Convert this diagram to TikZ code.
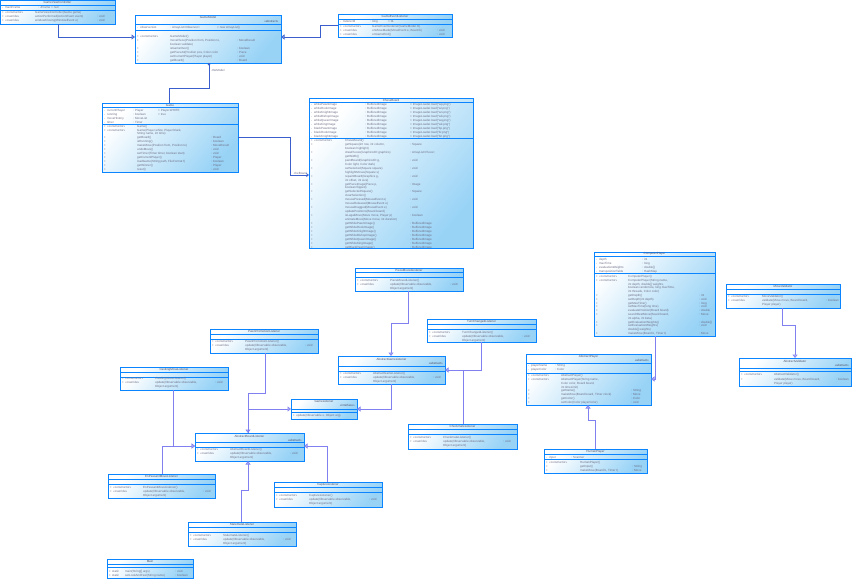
\documentclass[tikz,border=0pt]{standalone}
\usepackage{fontspec}
\newfontfamily\uf{Liberation Sans}
\usetikzlibrary{arrows.meta}
\definecolor{clsb}{HTML}{0A84FF}
\definecolor{clsfill}{HTML}{98D3F6}
\definecolor{clsmid}{HTML}{D0EDFC}
\definecolor{txtc}{HTML}{6E6E86}
\definecolor{ttlc}{HTML}{50506A}
\definecolor{inhc}{HTML}{8080F0}
\definecolor{ascc}{HTML}{3A5FCD}
\newlength\cA \newlength\cB \newlength\cC
\setlength\cA{3.2pt}
\newcommand\setcols[2]{\setlength\cB{#1pt}\setlength\cC{#2pt}}
\newcommand\rw[4]{\makebox[\cA][l]{#1}\makebox[\cB][l]{#2}\makebox[\cC][l]{#3}#4\strut}
\newcommand\umlcls[7]{\node[clsbox, minimum width={#4pt-#2pt}, minimum height={#5pt-#3pt}] (#1) at (#2,#3) {};
 \draw[divline] (#2,#6) -- (#4,#6); \draw[divline] (#2,#7) -- (#4,#7);}
\newcommand\rowsnode[5]{\node[rowtxt=#4] (#1) at (#2,#3-1.7) {#5};}
\newcommand\lst[1]{\rw{+}{«constructor»}{#1()}{}\\\rw{+}{«override»}{update(Observable observable,}{: void}\\\rw{}{}{Object argument)}{}}
\tikzset{
 clsbox/.style={draw=clsb, line width=0.9pt, top color=white, middle color=clsmid, bottom color=clsfill, shading angle=50, inner sep=0pt, outer sep=0pt, anchor=north west},
 divline/.style={draw=clsb, line width=0.9pt},
 rowtxt/.style={anchor=north west, inner sep=0pt, outer sep=0pt, align=left, text=txtc, font=\uf\fontsize{3}{#1}\selectfont},
 ttl/.style={inner sep=0pt, text=ttlc, font=\uf\fontsize{3}{3.6}\selectfont},
 sty/.style={ttl, anchor=east},
 lbl/.style={inner sep=0pt, text=txtc, font=\uf\fontsize{3}{3.6}\selectfont},
 conn/.style={draw=inhc, line width=0.8pt},
 inh/.style={conn, -{Triangle[open, fill=white, length=3.5pt, width=5pt]}},
 aline/.style={draw=ascc, line width=0.8pt},
 ainh/.style={aline, -{Triangle[open, fill=white, length=3.5pt, width=5pt]}},
}
\begin{document}
\begin{tikzpicture}[x=1pt,y=-1pt]
\useasboundingbox (0,0) rectangle (853,579);
\fill[white] (0,0) rectangle (853,579);

% A
\umlcls{A}{0.5}{0.5}{115}{24}{5}{10}
\node[ttl] (A-t) at (57.5,2.8) {GameViewController};
\setcols{33}{13}
\rowsnode{A-a}{2}{7.5}{4}{\rw{-}{mainFrame}{: JFrame}{= null}}
\setcols{30}{62}
\rowsnode{A-m}{2}{12.5}{3.8}{\rw{+}{«constructor»}{GameViewController(Game game)}{}\\\rw{+}{«override»}{actionPerformed(ActionEvent event)}{: void}\\\rw{+}{«override»}{windowClosing(WindowEvent e)}{: void}}

% B
\umlcls{B}{135}{15}{281}{63}{24}{30}
\node[ttl] (B-t) at (208,17.5) {GameModel};
\node[sty] (B-s) at (278.5,21.2) {«abstract»};
\setcols{30}{47}
\rowsnode{B-a}{137}{27}{4}{\rw{-}{observerList}{: ArrayList<Observer>}{= new ArrayList()}}
\setcols{30}{67}
\rowsnode{B-m}{137}{36}{4}{\rw{+}{«constructor»}{GameModel()}{}\\
\rw{+}{}{movePiece(Position from, Position to,}{: MoveResult}\\
\rw{}{}{boolean validate)}{}\\
\rw{+}{}{isGameOver()}{: boolean}\\
\rw{+}{}{getPieceAt(Position pos, Color color}{: Piece}\\
\rw{+}{}{setCurrentPlayer(Player player)}{: void}\\
\rw{+}{}{getBoard()}{: Board}}

% C
\umlcls{C}{338}{14}{452}{37}{19}{24}
\node[ttl] (C-t) at (395,16.5) {GameEventListener};
\setcols{27}{18}
\rowsnode{C-a}{340}{21.5}{4}{\rw{-}{listenerId}{: long}{= 0L}}
\setcols{29}{65}
\rowsnode{C-m}{340}{27}{3.8}{\rw{+}{«constructor»}{GameEventListener(GameModel m)}{}\\
\rw{+}{«override»}{onMoveMade(MoveEvent e, Board b)}{: void}\\
\rw{+}{«override»}{onGameEnd()}{: void}}

% D
\umlcls{D}{102}{103}{238}{172}{107}{124}
\node[ttl] (D-t) at (170,105.2) {Game};
\setcols{26}{25}
\rowsnode{D-a}{104}{110}{4}{\rw{-}{currentPlayer}{: Player}{= Player.WHITE}\\
\rw{-}{running}{: boolean}{= true}\\
\rw{-}{moveHistory}{: MoveList}{}\\
\rw{-}{timer}{: Timer}{}}
\setcols{30}{74}
\rowsnode{D-m}{104}{126}{3.95}{\rw{+}{«constructor»}{Game()}{}\\
\rw{+}{«constructor»}{Game(Player white, Player black,}{}\\
\rw{}{}{String name, int time)}{}\\
\rw{+}{}{getBoard()}{: Board}\\
\rw{+}{}{isRunning()}{: boolean}\\
\rw{+}{}{makeMove(Position from, Position to)}{: MoveResult}\\
\rw{+}{}{undoMove()}{: void}\\
\rw{+}{}{setTimer(Timer timer, boolean start)}{: void}\\
\rw{+}{}{getCurrentPlayer()}{: Player}\\
\rw{+}{}{loadGame(String path, FileFormat f)}{: boolean}\\
\rw{+}{}{getWinner()}{: Player}\\
\rw{+}{}{reset()}{: void}}

% E
\umlcls{E}{309}{98}{473}{248}{102}{138}
\node[ttl] (E-t) at (391,100.2) {ChessBoard};
\setcols{51}{45}
\rowsnode{E-a}{311}{104.5}{4}{\rw{-}{whitePawnImage}{: BufferedImage}{= ImageLoader.load("wp.png")}\\
\rw{-}{whiteRookImage}{: BufferedImage}{= ImageLoader.load("wr.png")}\\
\rw{-}{whiteKnightImage}{: BufferedImage}{= ImageLoader.load("wn.png")}\\
\rw{-}{whiteBishopImage}{: BufferedImage}{= ImageLoader.load("wb.png")}\\
\rw{-}{whiteQueenImage}{: BufferedImage}{= ImageLoader.load("wq.png")}\\
\rw{-}{whiteKingImage}{: BufferedImage}{= ImageLoader.load("wk.png")}\\
\rw{-}{blackPawnImage}{: BufferedImage}{= ImageLoader.load("bp.png")}\\
\rw{-}{blackRookImage}{: BufferedImage}{= ImageLoader.load("br.png")}\\
\rw{-}{blackKnightImage}{: BufferedImage}{= ImageLoader.load("bn.png")}}
\setcols{31}{65}
\rowsnode{E-m}{311}{140.5}{3.95}{\rw{+}{«constructor»}{ChessBoard()}{}\\
\rw{+}{}{getSquare(int row, int column,}{: Square}\\
\rw{}{}{boolean highlight)}{}\\
\rw{+}{}{drawPieces(Graphics2D graphics)}{: ArrayList<Piece>}\\
\rw{}{}{getWidth()}{}\\
\rw{+}{}{paintBoard(Graphics2D g,}{: void}\\
\rw{}{}{Color light, Color dark)}{}\\
\rw{+}{}{setSelected(Square square)}{: void}\\
\rw{}{}{highlightMoves(Square s)}{}\\
\rw{+}{}{repaintBoard(Graphics g,}{: void}\\
\rw{}{}{int offset, int size)}{}\\
\rw{+}{}{getPieceImage(Piece p,}{: Image}\\
\rw{}{}{boolean flipped)}{}\\
\rw{+}{}{getSelectedSquare()}{: Square}\\
\rw{}{}{clearSelection()}{}\\
\rw{+}{}{mousePressed(MouseEvent e)}{: void}\\
\rw{}{}{mouseReleased(MouseEvent e)}{}\\
\rw{+}{}{mouseDragged(MouseEvent e)}{: void}\\
\rw{}{}{updatePositions(Board board)}{}\\
\rw{+}{}{isLegalMove(Move move, Player p)}{: boolean}\\
\rw{}{}{animateMove(Move move, int duration)}{}\\
\rw{+}{}{getWhitePawnImage()}{: BufferedImage}\\
\rw{+}{}{getWhiteRookImage()}{: BufferedImage}\\
\rw{+}{}{getWhiteKnightImage()}{: BufferedImage}\\
\rw{+}{}{getWhiteBishopImage()}{: BufferedImage}\\
\rw{+}{}{getWhiteQueenImage()}{: BufferedImage}\\
\rw{+}{}{getWhiteKingImage()}{: BufferedImage}\\
\rw{+}{}{getBlackPawnImage()}{: BufferedImage}}

% listeners
\setcols{30}{60}
\umlcls{F}{355}{268}{463}{291}{272}{277}
\node[ttl] (F-t) at (409,270.2) {PieceMovedListener};
\rowsnode{F-m}{357}{280}{4}{\lst{PieceMovedListener}}

\umlcls{G}{427}{319}{536}{342}{324}{329}
\node[ttl] (G-t) at (481.5,321.5) {TurnChangedListener};
\rowsnode{G-m}{429}{332}{4}{\lst{TurnChangedListener}}

\umlcls{H}{338}{356}{445}{384}{366}{371}
\node[ttl] (H-t) at (391.5,359) {AbstractGameListener};
\node[sty] (H-s) at (443,363) {«abstract»};
\rowsnode{H-m}{340}{374}{3.8}{\lst{AbstractGameListener}}

\umlcls{I}{291}{399}{357}{419}{409.5}{412}
\node[ttl] (I-t) at (324,401.5) {GameListener};
\node[sty] (I-s) at (355,405.5) {«interface»};
\setcols{0}{0}
\rowsnode{I-m}{293}{415}{4}{\rw{+}{}{}{update(Observable o, Object arg)}}
\setcols{30}{60}

\umlcls{J}{408}{424}{517}{449}{429}{434}
\node[ttl] (J-t) at (462.5,426.5) {CheckmateListener};
\rowsnode{J-m}{410}{437}{4}{\lst{CheckmateListener}}

\umlcls{K}{210}{329}{318}{353}{334}{339}
\node[ttl] (K-t) at (264,331.5) {PawnPromotionListener};
\rowsnode{K-m}{212}{342}{3.8}{\lst{PawnPromotionListener}}

\umlcls{L}{120}{367}{228}{390}{372}{377}
\node[ttl] (L-t) at (174,369.5) {CastlingMoveListener};
\rowsnode{L-m}{122}{378.5}{4}{\lst{CastlingMoveListener}}

\umlcls{M}{195}{433}{304}{461}{442}{447}
\node[ttl] (M-t) at (249.5,436) {AbstractBoardListener};
\node[sty] (M-s) at (302,440) {«abstract»};
\rowsnode{M-m}{197}{449.5}{3.9}{\lst{AbstractBoardListener}}

\umlcls{N}{108}{474}{215}{498}{479}{484}
\node[ttl] (N-t) at (161.5,476.5) {EnPassantMoveListener};
\rowsnode{N-m}{110}{487}{4}{\lst{EnPassantMoveListener}}

\umlcls{O}{274}{482}{382}{507}{487}{492}
\node[ttl] (O-t) at (328,484.5) {CaptureListener};
\rowsnode{O-m}{276}{495}{4}{\lst{CaptureListener}}

\umlcls{P}{188}{522}{296}{546}{527}{532}
\node[ttl] (P-t) at (242,524.5) {StalemateListener};
\rowsnode{P-m}{190}{535}{4}{\lst{StalemateListener}}

% Q
\umlcls{Q}{107}{559}{193}{578.5}{564}{567}
\node[ttl] (Q-t) at (150,561.5) {Main};
\setcols{13}{50}
\rowsnode{Q-m}{109}{571}{4}{\rw{+}{static}{main(String[] args)}{: void}\\\rw{+}{static}{setLookAndFeel(String name)}{: boolean}}

% R
\umlcls{R}{526}{354}{651}{405}{363}{373}
\node[ttl] (R-t) at (588.5,356.5) {AbstractPlayer};
\node[sty] (R-s) at (649,360) {«abstract»};
\setcols{24}{0}
\rowsnode{R-a}{528}{366}{3.5}{\rw{-}{playerName}{: String}{}\\\rw{-}{playerColor}{: Color}{}}
\setcols{30}{70}
\rowsnode{R-m}{528}{375.5}{3.85}{\rw{+}{«constructor»}{AbstractPlayer()}{}\\
\rw{+}{«constructor»}{AbstractPlayer(String name,}{}\\
\rw{}{}{Color color, Board board,}{}\\
\rw{}{}{int timeLimit)}{}\\
\rw{+}{}{getName()}{: String}\\
\rw{+}{}{makeMove(Board board, Timer clock)}{: Move}\\
\rw{+}{}{getColor()}{: Color}\\
\rw{+}{}{setColor(Color playerColor)}{: void}}

% S
\umlcls{S}{544}{449}{647}{473}{454}{459.5}
\node[ttl] (S-t) at (595.5,451.5) {HumanPlayer};
\setcols{22}{0}
\rowsnode{S-a}{546}{457}{4}{\rw{-}{input}{: Scanner}{}}
\setcols{31}{52}
\rowsnode{S-m}{546}{462.5}{4}{\rw{+}{«constructor»}{HumanPlayer()}{}\\\rw{+}{}{getInput()}{: String}\\\rw{+}{}{makeMove(Board b, Timer t)}{: Move}}

% T
\umlcls{T}{594}{252}{715}{336}{256}{273}
\node[ttl] (T-t) at (654.5,254.2) {ComputerPlayer};
\setcols{43}{0}
\rowsnode{T-a}{596}{259}{4}{\rw{-}{depth}{: int}{}\\\rw{-}{maxTime}{: long}{}\\\rw{-}{evaluationWeights}{: double[]}{}\\\rw{-}{transpositionTable}{: HashMap}{}}
\setcols{29}{71}
\rowsnode{T-m}{596}{276.5}{3.8}{\rw{+}{«constructor»}{ComputerPlayer()}{}\\
\rw{+}{«constructor»}{ComputerPlayer(String name,}{}\\
\rw{}{}{int depth, double[] weights,}{}\\
\rw{}{}{boolean randomize, long maxTime,}{}\\
\rw{}{}{int threads, Color color)}{}\\
\rw{+}{}{getDepth()}{: int}\\
\rw{+}{}{setDepth(int depth)}{: void}\\
\rw{+}{}{getMaxTime()}{: long}\\
\rw{+}{}{setMaxTime(long time)}{: void}\\
\rw{+}{}{evaluatePosition(Board board)}{: double}\\
\rw{+}{}{searchBestMove(Board board,}{: Move}\\
\rw{}{}{int alpha, int beta)}{}\\
\rw{+}{}{getEvaluationWeights()}{: double[]}\\
\rw{+}{}{setEvaluationWeights(}{: void}\\
\rw{}{}{double[] weights)}{}\\
\rw{+}{}{makeMove(Board b, Timer t)}{: Move}}

% U
\umlcls{U}{726}{284}{840}{308}{289}{294}
\node[ttl] (U-t) at (783,286.5) {MoveValidator};
\setcols{31}{64}
\rowsnode{U-m}{728}{296}{4}{\rw{+}{«constructor»}{MoveValidator()}{}\\\rw{+}{«override»}{validate(Move move, Board board,}{: boolean}\\\rw{}{}{Player player)}{}}

% V
\umlcls{V}{739}{358}{851.5}{386}{368}{371}
\node[ttl] (V-t) at (795,361) {AbstractValidator};
\node[sty] (V-s) at (849,365) {«abstract»};
\setcols{30}{62}
\rowsnode{V-m}{741}{374.5}{4.3}{\rw{+}{«constructor»}{AbstractValidator()}{}\\\rw{+}{}{validate(Move move, Board board,}{: boolean}\\\rw{}{}{Player player)}{}}

% connectors (top, blue)
\draw[ainh] (A.south -| 58,0) |- (B.west |- 0,37);
\draw[ainh] (C.west |- 0,25) -- ++(-18,0) |- (B.east |- 0,37);
\draw[aline, {Circle[length=2.4pt]}-] (B.south -| 209,0) -- ++(0,25) -| (D.north -| 169,0);
\draw[aline, -{Straight Barb[length=2pt,width=3pt]}] (D.east |- 0,137) -- ++(52,0) |- (E.west |- 0,175);
\node[lbl, anchor=west] (lb1) at (211,70) {-theModel};
\node[lbl, anchor=south east] (lb2) at (307,174.5) {-theBoard};

% inheritance (purple)
\draw[inh] (F.south -| 408,0) -- ++(0,32) -| (H.north -| 391,0);
\draw[inh] (G.south -| 481,0) |- (H.east |- 0,370);
\draw[conn] (J.north -| 463,0) -- ++(0,-54);
\draw[inh] (H.south -| 391,0) |- (I.east |- 0,409);
\draw[inh] (K.south -| 265,0) -- ++(0,40) -| (M.north -| 248,0);
\draw[inh] (M.north -| 248,0) |- (I.west |- 0,409);
\draw[inh] (L.south -| 173,0) |- (M.west |- 0,446);
\draw[inh] (N.north -| 162,0) |- (M.west |- 0,446);
\draw[inh] (O.north -| 327,0) |- (M.east |- 0,446);
\draw[inh] (P.north -| 241,0) -- ++(0,-32) -| (M.south -| 248,0);
\draw[inh] (T.south -| 655,0) |- (R.east |- 0,379);
\draw[inh] (S.north -| 595,0) -- ++(0,-29) -| (R.south -| 588,0);
\draw[inh] (U.south -| 782,0) -- ++(0,17) -| (V.north -| 795,0);
\end{tikzpicture}
\end{document}
